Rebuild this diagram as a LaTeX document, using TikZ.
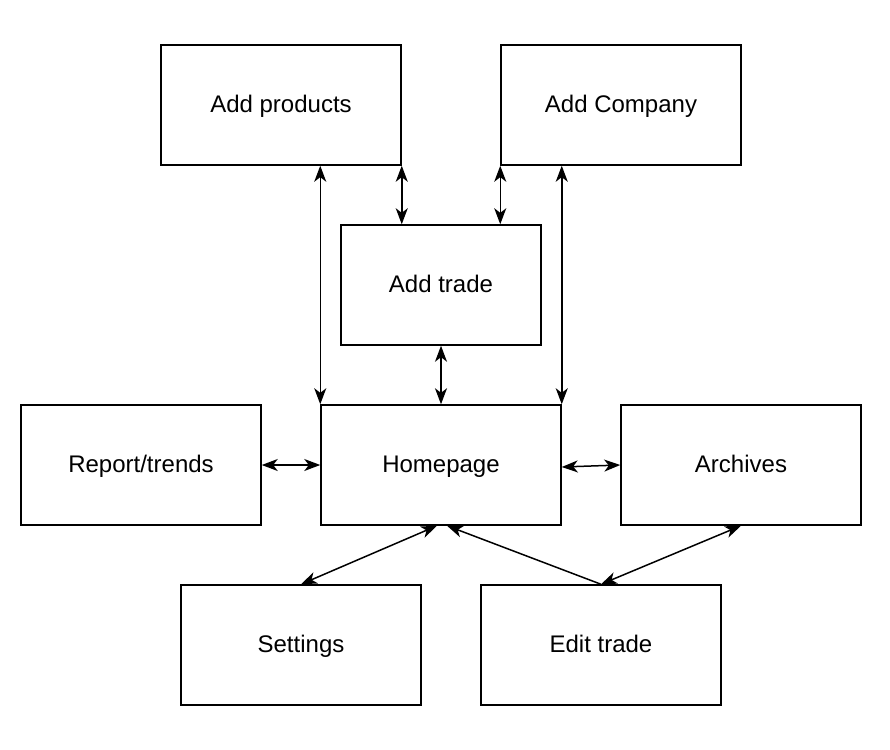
\documentclass[tikz,border=0pt]{standalone}
\usepackage{fontspec}
\setmainfont{Liberation Sans}
\usetikzlibrary{positioning,arrows.meta}

\begin{document}
\begin{tikzpicture}[x=0.5pt, y=-0.5pt,
    screen/.style={draw, line width=0.75pt, minimum width=120pt, minimum height=60pt,
        inner sep=0pt, text height=1.8ex, text depth=0.3ex, font=\fontsize{12}{14}\selectfont},
    link/.style={line width=0.75pt, {Stealth[length=8pt,width=6pt,inset=2.3pt]}-{Stealth[length=8pt,width=6pt,inset=2.3pt]}},
    oneway/.style={line width=0.75pt, -{Stealth[length=8pt,width=6pt,inset=2.3pt]}}]
\useasboundingbox (0,0) rectangle (890,750);

% Screens
\node[screen] (products) at (281,105) {Add products};
\node[screen] (company) at (621,105) {Add Company};
\node[screen, minimum width=100pt] (trade) at (441,285) {Add trade};
\node[screen] (report) at (141,465) {Report/trends};
\node[screen] (home) at (441,465) {Homepage};
\node[screen] (archives) at (741,465) {Archives};
\node[screen] (settings) at (301,645) {Settings};
\node[screen] (edit) at (601,645) {Edit trade};

% Links
\draw[link] (home.north west) -- (home.north west |- products.south);
\draw[link] (products.south east) -- (products.south east |- trade.north);
\draw[link] (company.south west) -- (company.south west |- trade.north);
\draw[link] (home.north east) -- (home.north east |- company.south);
\draw[link] (trade.south) -- (home.north);
\draw[link] (report.east) -- (home.west);
\draw[link] ([yshift=-1pt]home.east) -- (archives.west);
\draw[link] (settings.north) -- ([xshift=-2pt]home.south);
\draw[oneway] (edit.north) -- ([xshift=3pt]home.south);
\draw[link] (edit.north) -- (archives.south);
\end{tikzpicture}
\end{document}
